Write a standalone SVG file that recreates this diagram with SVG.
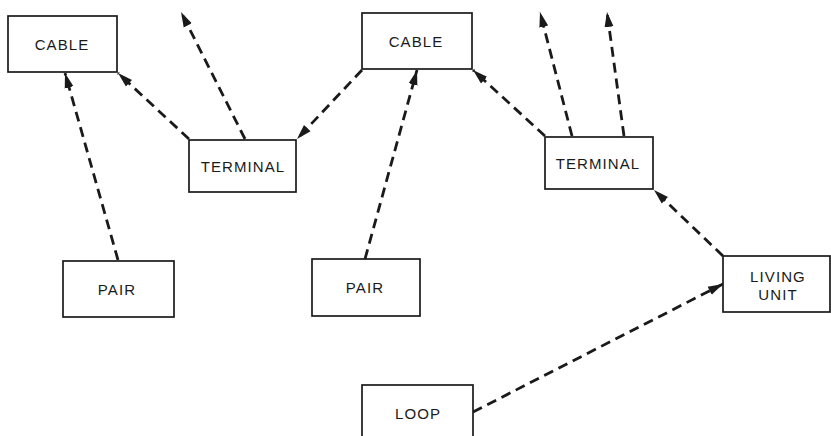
<svg xmlns="http://www.w3.org/2000/svg" width="831" height="436" viewBox="0 0 831 436">
  <style>
    .box { fill: #fff; stroke: #1a1a1a; stroke-width: 1.7; }
    .lbl { font-family: "Liberation Sans", Arial, sans-serif; font-size: 15px; letter-spacing: 1.1px; fill: #1a1a1a; text-anchor: middle; dominant-baseline: central; }
    .link { fill: none; stroke: #1a1a1a; stroke-width: 2.8; stroke-dasharray: 10 6; marker-end: url(#head); }
  </style>
  <defs>
    <marker id="head" markerUnits="userSpaceOnUse" markerWidth="16" markerHeight="10" refX="15" refY="5" orient="auto">
      <path d="M0,0.5 L15,5 L0,9.5 z" fill="#1a1a1a"/>
    </marker>
  </defs>
  <rect width="831" height="436" fill="#fff"/>

  <g id="connectors">
    <line class="link" x1="118" y1="260" x2="65" y2="73"/>
    <line class="link" x1="189" y1="139" x2="118" y2="73"/>
    <line class="link" x1="245" y1="139" x2="181" y2="12"/>
    <line class="link" x1="362" y1="70" x2="297" y2="139"/>
    <line class="link" x1="365" y1="259" x2="417" y2="70"/>
    <line class="link" x1="545" y1="136" x2="473" y2="70"/>
    <line class="link" x1="572" y1="136" x2="540" y2="12"/>
    <line class="link" x1="624" y1="136" x2="607" y2="12"/>
    <line class="link" x1="723" y1="256" x2="654" y2="190"/>
    <line class="link" x1="473" y1="412" x2="723" y2="284"/>
  </g>

  <g id="cable-1">
    <rect class="box" x="8" y="16" width="109" height="56"/>
    <text class="lbl" x="62" y="44">CABLE</text>
  </g>
  <g id="terminal-1">
    <rect class="box" x="189" y="140" width="107" height="52"/>
    <text class="lbl" x="243" y="166">TERMINAL</text>
  </g>
  <g id="cable-2">
    <rect class="box" x="362" y="13" width="110" height="56"/>
    <text class="lbl" x="416" y="41">CABLE</text>
  </g>
  <g id="terminal-2">
    <rect class="box" x="545" y="137" width="108" height="52"/>
    <text class="lbl" x="598" y="163">TERMINAL</text>
  </g>
  <g id="pair-1">
    <rect class="box" x="63" y="261" width="111" height="56"/>
    <text class="lbl" x="117" y="289">PAIR</text>
  </g>
  <g id="pair-2">
    <rect class="box" x="312" y="259" width="108" height="57"/>
    <text class="lbl" x="365" y="287">PAIR</text>
  </g>
  <g id="living-unit">
    <rect class="box" x="723" y="256" width="107" height="56"/>
    <text class="lbl" x="778" y="276">LIVING</text>
    <text class="lbl" x="778" y="294">UNIT</text>
  </g>
  <g id="loop">
    <rect class="box" x="362" y="385" width="111" height="60"/>
    <text class="lbl" x="418" y="413">LOOP</text>
  </g>
</svg>
